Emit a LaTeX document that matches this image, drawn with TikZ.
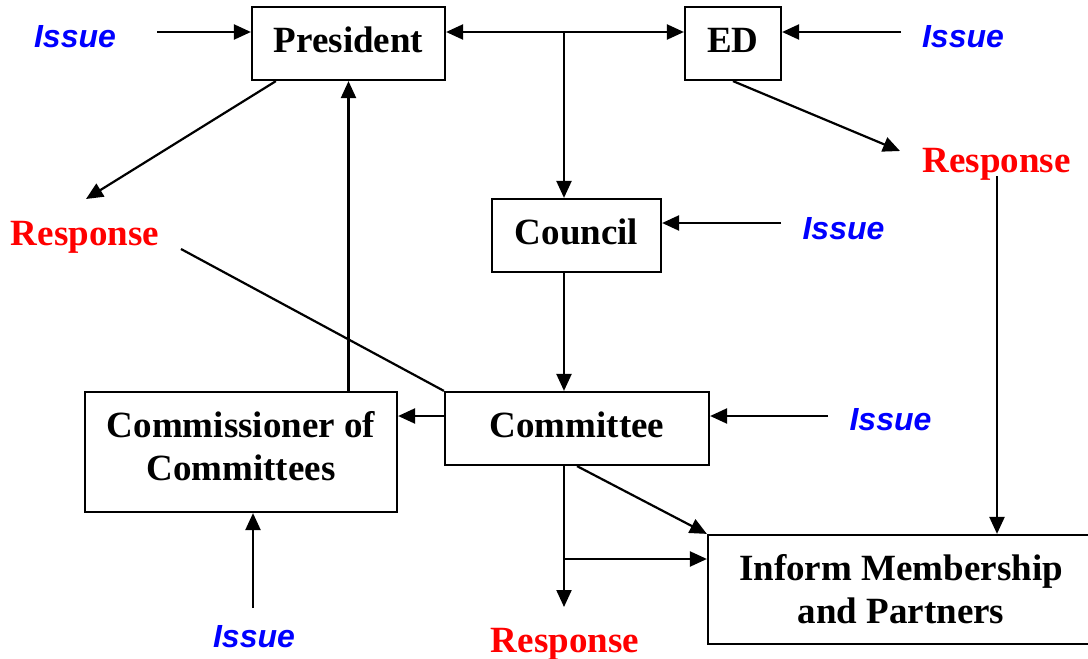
\documentclass[tikz,border=0pt]{standalone}
\usepackage{fontspec}
\setmainfont{Liberation Serif}
\newfontfamily\issuefont{Liberation Sans}
\usepackage{tikz}
\usetikzlibrary{arrows.meta}

\begin{document}
\begin{tikzpicture}[x=1pt,y=-1pt,line width=2.2pt,
  >={Triangle[length=17pt,width=15pt]},
  box/.style={draw,inner sep=0pt,font=\fontsize{37}{43}\selectfont\bfseries},
  onebox/.style={box,text height=26pt,text depth=8pt},
  issue/.style={anchor=base,inner sep=0pt,text=blue,font=\issuefont\fontsize{32}{36}\selectfont\bfseries\itshape},
  resp/.style={anchor=base,inner sep=0pt,text=red,font=\fontsize{37}{43}\selectfont\bfseries}]
\useasboundingbox (0,0) rectangle (1088,659);
\node (PRES) [onebox,minimum width=193pt,minimum height=73pt] at (348.5,43.5) {President};
\node (ED) [onebox,minimum width=96pt,minimum height=73pt] at (733,43.5) {ED};
\node (COUNCIL) [onebox,minimum width=169pt,minimum height=73pt] at (576.5,235.5) {Council};
\node (CMTE) [onebox,minimum width=264pt,minimum height=73pt] at (577,428.5) {Committee};
\node (COMM) [box,align=center,minimum width=312pt,minimum height=120pt] at (241,452) {Commissioner of\\Committees\strut};
\node (INFORM) [box,align=center,minimum width=386pt,minimum height=109pt] at (901,589.5) {Inform Membership\\and Partners};
\node (ISSA) [issue] at (75,47) {Issue};
\node (ISSB) [issue] at (963,47) {Issue};
\node (ISSC) [issue] at (843.5,239) {Issue};
\node (ISSD) [issue] at (890.5,430) {Issue};
\node (ISSE) [issue] at (254,647) {Issue};
\node (RESPA) [resp] at (85,245) {Response};
\node (RESPB) [resp] at (996.5,172) {Response};
\node (RESPC) [resp] at (565,652) {Response};
\coordinate (TOP) at (564,32);
\coordinate (A1) at (157,32);
\coordinate (A2) at (901,32);
\coordinate (A3) at (86,199);
\coordinate (A4) at (900,151);
\coordinate (A5) at (781,223);
\coordinate (A6) at (181,249);
\coordinate (A7) at (828,416);
\coordinate (A8) at (253,608);
\coordinate (A9) at (564,607);
\coordinate (A10) at (564,559);
\coordinate (A11) at (997,176);
\draw [<->] (TOP -| PRES.east) to (TOP -| ED.west);
\draw [->] (TOP) to (TOP |- COUNCIL.north);
\draw [->] (A1) to (A1 -| PRES.west);
\draw [->] (A2) to (A2 -| ED.east);
\draw [->] ([xshift=25pt]PRES.south west) to (A3);
\draw [->] (ED.south) to (A4);
\draw [->] (A5) to (A5 -| COUNCIL.east);
\draw [->] (TOP |- COUNCIL.south) to (TOP |- CMTE.north);
\draw (A6) to (CMTE.north west);
\draw [->] (PRES.south |- COMM.north) to (PRES.south);
\draw [->] (A7) to (A7 -| CMTE.east);
\draw [->] (A7 -| CMTE.west) to (A7 -| COMM.east);
\draw [->] (A8) to (A8 |- COMM.south);
\draw [->] (CMTE.south) to (INFORM.north west);
\draw [->] (TOP |- CMTE.south) to (A9);
\draw [->] (A10) to (A10 -| INFORM.west);
\draw [->] (A11) to (A11 |- INFORM.north);
\end{tikzpicture}
\end{document}
